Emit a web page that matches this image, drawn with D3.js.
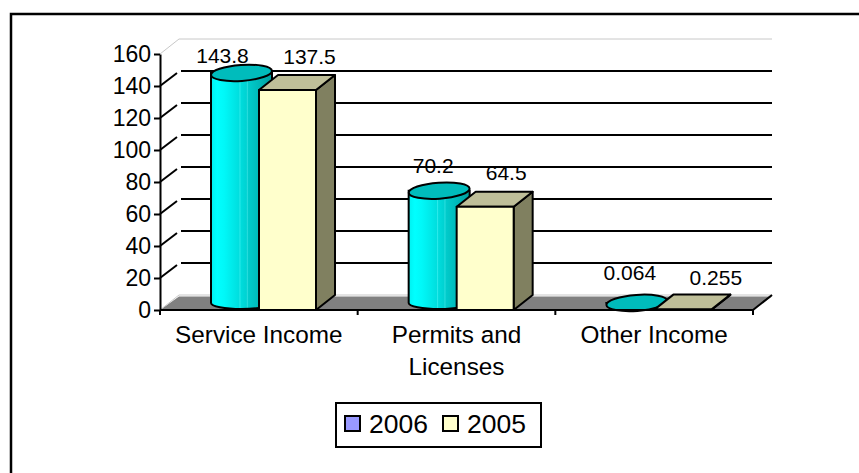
<!DOCTYPE html>
<html>
<head>
<meta charset="utf-8">
<script src="https://d3js.org/d3.v7.min.js"></script>
<style>
  html, body { margin: 0; padding: 0; background: #fff; overflow: hidden; }
  svg { display: block; }
  text { font-family: "Liberation Sans", Arial, sans-serif; fill: #000; }
</style>
</head>
<body>
<div id="chart"></div>
<script>
const categories = ["Service Income", "Permits and Licenses", "Other Income"];
const values2006 = [143.8, 70.2, 0.064];
const values2005 = [137.5, 64.5, 0.255];
const labels2006 = ["143.8", "70.2", "0.064"];
const labels2005 = ["137.5", "64.5", "0.255"];
const yTicks = [0, 20, 40, 60, 80, 100, 120, 140, 160];
const seriesNames = ["2006", "2005"];

const width = 859, height = 473;
const depthX = 19, depthY = -15;

const svg = d3.select("#chart").append("svg")
    .attr("width", width)
    .attr("height", height);

// outer frame, right and bottom edges fall outside the picture
svg.append("rect")
    .attr("x", 11).attr("y", 14)
    .attr("width", 900).attr("height", 500)
    .attr("fill", "#fff")
    .attr("stroke", "#000")
    .attr("stroke-width", 2.5);

const x = d3.scaleBand()
    .domain(categories)
    .range([160, 753]);

const y = d3.scaleLinear()
    .domain([0, 160])
    .range([310, 54]);

// cylinder shading, left to right
const grad = svg.append("defs").append("linearGradient")
    .attr("id", "cyl")
    .attr("x1", "0%").attr("x2", "100%")
    .attr("y1", "0%").attr("y2", "0%");
[[0, "#00f0f0"], [0.1, "#00ffff"], [0.22, "#00f8f8"], [0.46, "#00dede"], [0.475, "#30ecec"], [0.49, "#00dcdc"],
 [0.58, "#00d2d2"], [0.595, "#30e0e0"], [0.61, "#00cccc"], [0.8, "#00b8b8"], [1, "#009c9c"]]
    .forEach(s => grad.append("stop").attr("offset", s[0]).attr("stop-color", s[1]));

// floor and top edge of the back wall
const x0 = x.range()[0], x1 = x.range()[1], y0 = y(0);
svg.append("path")
    .attr("d", d3.line()([[x0, y0], [x0 + depthX, y0 + depthY + 1.5], [x1 + depthX, y0 + depthY + 1.5], [x1, y0]]))
    .attr("fill", "#808080");
[y0, y(160)].forEach(yy => {
    svg.append("path")
        .attr("d", d3.line()([[x0, yy], [x0 + depthX, yy + depthY], [x1 + depthX, yy + depthY]]))
        .attr("fill", "none")
        .attr("stroke", "#c8c8c8")
        .attr("stroke-width", 1);
});

// gridlines on wall, with the slanted bit on the side wall
yTicks.slice(1, -1).forEach(t => {
    svg.append("line")
        .attr("x1", x0).attr("y1", y(t))
        .attr("x2", x0 + depthX - 2).attr("y2", y(t) + depthY + 2)
        .attr("stroke", "#000").attr("stroke-width", 2);
    svg.append("line")
        .attr("x1", x0 + depthX + 2).attr("y1", y(t) + depthY)
        .attr("x2", x1 + depthX).attr("y2", y(t) + depthY)
        .attr("stroke", "#000").attr("stroke-width", 2);
});
svg.append("line")
    .attr("x1", x1).attr("y1", y0)
    .attr("x2", x1 + depthX).attr("y2", y0 + depthY)
    .attr("stroke", "#000").attr("stroke-width", 2);

const cylX = 51, cylW = 61, boxX = 99, boxW = 57;
const cylLift = 7, ryTop = 8, ryBottom = 6;

categories.forEach((c, i) => {
    // cylinder for 2006
    const left = x(c) + cylX, right = left + cylW, rx = cylW / 2;
    const top = y(values2006[i]) - cylLift, bottom = y(0) - cylLift;
    const g = svg.append("g").attr("stroke", "#000").attr("stroke-width", 2);
    g.append("path")
        .attr("d", `M${left},${top}L${left},${bottom}A${rx},${ryBottom} 0 0 0 ${right},${bottom}L${right},${top}Z`)
        .attr("fill", "url(#cyl)");
    g.append("ellipse")
        .attr("cx", left + rx).attr("cy", top)
        .attr("rx", rx).attr("ry", ryTop)
        .attr("transform", `rotate(-4 ${left + rx} ${top})`)
        .attr("fill", "#00bcbc");

    // box for 2005
    const bl = x(c) + boxX, br = bl + boxW, bt = y(values2005[i]), bb = y(0);
    const b = svg.append("g").attr("stroke", "#000").attr("stroke-width", 2).attr("stroke-linejoin", "round");
    b.append("path")
        .attr("d", d3.line()([[br, bt], [br + depthX, bt + depthY], [br + depthX, bb + depthY], [br, bb]]) + "Z")
        .attr("fill", "#808060");
    b.append("path")
        .attr("d", d3.line()([[bl, bt], [bl + depthX, bt + depthY], [br + depthX, bt + depthY], [br, bt]]) + "Z")
        .attr("fill", "#bfbf99");
    b.append("rect")
        .attr("x", bl).attr("y", bt)
        .attr("width", boxW).attr("height", bb - bt)
        .attr("fill", "#ffffcc");
});

// axes
const yAxis = svg.append("g")
    .attr("transform", `translate(${x0},0)`)
    .call(d3.axisLeft(y).tickValues(yTicks).tickSize(6).tickSizeOuter(0));
yAxis.selectAll("path,line").attr("stroke", "#000").attr("stroke-width", 2);
yAxis.selectAll("text").style("font-size", "23px").style("font-family", '"Liberation Sans", Arial, sans-serif').attr("x", -9);

const xAxis = svg.append("g").attr("transform", `translate(0,${y0})`);
xAxis.append("line")
    .attr("x1", x0).attr("x2", x1)
    .attr("stroke", "#000").attr("stroke-width", 2);
xAxis.selectAll("line.tick")
    .data([0, 1, 2, 3])
    .enter().append("line")
    .attr("class", "tick")
    .attr("x1", i => x0 + i * x.bandwidth())
    .attr("x2", i => x0 + i * x.bandwidth())
    .attr("y1", 0).attr("y2", 5)
    .attr("stroke", "#000").attr("stroke-width", 2);

const catLines = [["Service Income"], ["Permits and", "Licenses"], ["Other Income"]];
categories.forEach((c, i) => {
    const t = svg.append("text")
        .attr("text-anchor", "middle")
        .style("font-size", "24.3px")
        .attr("y", 343);
    catLines[i].forEach((s, j) => {
        t.append("tspan")
            .attr("x", x(c) + x.bandwidth() / 2)
            .attr("dy", j ? 32 : 0)
            .text(s);
    });
});

// data labels, hand placed in the original so nudged per point
const nudge2006 = [[-19, -17], [-6, -25], [-7, -30]];
const nudge2005 = [[22, -26], [21, -27], [33, -25]];
categories.forEach((c, i) => {
    svg.append("text")
        .attr("text-anchor", "middle")
        .style("font-size", "21px")
        .attr("x", x(c) + cylX + cylW / 2 + nudge2006[i][0])
        .attr("y", y(values2006[i]) + nudge2006[i][1])
        .text(labels2006[i]);
    svg.append("text")
        .attr("text-anchor", "middle")
        .style("font-size", "21px")
        .attr("x", x(c) + boxX + boxW / 2 + nudge2005[i][0])
        .attr("y", y(values2005[i]) + nudge2005[i][1])
        .text(labels2005[i]);
});

// legend
const legend = svg.append("g");
legend.append("rect")
    .attr("x", 336).attr("y", 403)
    .attr("width", 205).attr("height", 44)
    .attr("fill", "#fff").attr("stroke", "#000").attr("stroke-width", 2);
[["#9999ff", 345, 369], ["#ffffcc", 443, 467]].forEach((l, i) => {
    legend.append("rect")
        .attr("x", l[1]).attr("y", 416)
        .attr("width", 15).attr("height", 15)
        .attr("fill", l[0]).attr("stroke", "#000").attr("stroke-width", 2);
    legend.append("text")
        .attr("x", l[2]).attr("y", 433)
        .style("font-size", "26.5px")
        .text(seriesNames[i]);
});
</script>
</body>
</html>
